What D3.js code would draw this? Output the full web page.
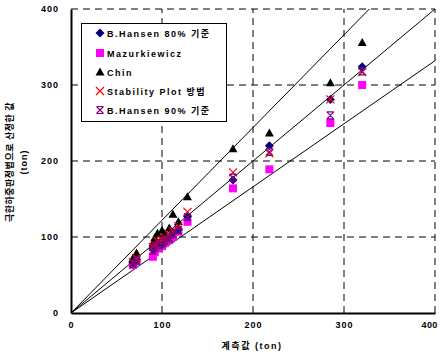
<!DOCTYPE html>
<html><head><meta charset="utf-8">
<script src="https://cdn.jsdelivr.net/npm/d3@7"></script>
<style>
body{margin:0;background:#fff;}
text{font-family:"Liberation Sans","Noto Sans CJK KR",Arial,sans-serif;font-weight:bold;}
</style></head><body>
<svg id="c" width="440" height="356"></svg>
<script>
const measured = [68, 72, 90, 92, 95, 100, 103, 108, 112, 118, 128, 178, 218, 285, 320];
const hansen80 = [66, 70, 84, 88, 91, 90, 96, 100, 106, 110, 127, 175, 220, 281, 324];
const mazur    = [63, 68, 74, 80, 85, 88, 92, 96, 100, 107, 120, 164, 189, 250, 300];
const chin     = [72, 79, 92, 99, 105, 109, 104, 112, 130, 120, 153, 216, 237, 303, 356];
const stability= [67, 72, 87, 90, 95, 96, 99, 103, 108, 114, 133, 185, 210, 281, 317];
const hansen90 = [65, 69, 82, 86, 89, 92, 95, 98, 104, 109, 126, 178, 212, 260, 318];
const ticks = [0, 100, 200, 300, 400];
const lineSlopes = [1.22, 1.0, 0.83];
const seriesNames = ["B.Hansen 80% 기준", "Mazurkiewicz", "Chin", "Stability Plot 방법", "B.Hansen 90% 기준"];
const xTitle = "계측값 (ton)";
const yTitle1 = "극한하중판정법으로 산정한 값";
const yTitle2 = "(ton)";

const svg = d3.select("#c");
const L = 71, R = 435, T = 9, B = 313;
const x = d3.scaleLinear().domain([0, 400]).range([L, R]);
const y = d3.scaleLinear().domain([0, 400]).range([B, T]);

const g = svg.append("g");
g.selectAll(".gx").data(ticks.slice(1)).enter().append("line")
  .attr("x1", d => x(d)).attr("x2", d => x(d)).attr("y1", y(0)).attr("y2", y(400))
  .attr("stroke", "#000").attr("stroke-width", 1).attr("stroke-dasharray", "7,5");
g.selectAll(".gy").data(ticks.slice(1)).enter().append("line")
  .attr("y1", d => y(d)).attr("y2", d => y(d)).attr("x1", x(0)).attr("x2", x(400))
  .attr("stroke", "#000").attr("stroke-width", 1).attr("stroke-dasharray", "7,5");

svg.append("clipPath").attr("id", "pc").append("rect")
  .attr("x", L).attr("y", T).attr("width", R - L).attr("height", B - T);
g.selectAll(".rl").data(lineSlopes).enter().append("line")
  .attr("clip-path", "url(#pc)")
  .attr("x1", x(0)).attr("y1", y(0))
  .attr("x2", x(400)).attr("y2", d => y(400 * d))
  .attr("stroke", "#000").attr("stroke-width", 1);

const xAxis = d3.axisBottom(x).tickValues(ticks).tickSize(0).tickPadding(9);
const yAxis = d3.axisLeft(y).tickValues(ticks).tickSize(0).tickPadding(12);
const gx = svg.append("g").attr("transform", `translate(0,${B})`).call(xAxis);
const gy = svg.append("g").attr("transform", `translate(${L},0)`).call(yAxis);
[gx, gy].forEach(a => {
  a.select(".domain").attr("stroke", "#000").attr("stroke-width", 2);
  a.selectAll("text").attr("font-size", 9).attr("letter-spacing", 1).attr("fill", "#000")
   .style("font-family", '"Liberation Sans",Arial,sans-serif').style("font-weight", "bold");
});
gx.selectAll(".tick").filter(d => d === 400).select("text")
  .attr("letter-spacing", 0.3).attr("text-anchor", "end").attr("dx", 2);

function drawMarker(sel, type, cx, cy) {
  if (type === 0) {
    sel.append("path").attr("d", `M${cx},${cy-4.5}L${cx+4.5},${cy}L${cx},${cy+4.5}L${cx-4.5},${cy}Z`).attr("fill", "#000080");
  } else if (type === 1) {
    sel.append("rect").attr("x", cx-4).attr("y", cy-4).attr("width", 8).attr("height", 8).attr("fill", "#ff00ff");
  } else if (type === 2) {
    sel.append("path").attr("d", `M${cx},${cy-4.5}L${cx+4.5},${cy+3.5}L${cx-4.5},${cy+3.5}Z`).attr("fill", "#000");
  } else if (type === 3) {
    sel.append("path").attr("d", `M${cx-4},${cy-4}L${cx+4},${cy+4}M${cx-4},${cy+4}L${cx+4},${cy-4}`).attr("stroke", "#ff0000").attr("stroke-width", 1.2).attr("fill", "none");
  } else {
    sel.append("path").attr("d", `M${cx-3.5},${cy-3.5}L${cx+3.5},${cy+3.5}M${cx-3.5},${cy+3.5}L${cx+3.5},${cy-3.5}M${cx-3.5},${cy-3.5}L${cx+3.5},${cy-3.5}M${cx-3.5},${cy+3.5}L${cx+3.5},${cy+3.5}`).attr("stroke", "#800080").attr("stroke-width", 1.2).attr("fill", "none");
  }
}
const series = [hansen80, mazur, chin, stability, hansen90];
const drawOrder = [1, 0, 2, 3, 4];
const mg = svg.append("g");
drawOrder.forEach(si => {
  series[si].forEach((v, i) => drawMarker(mg, si, x(measured[i]), y(v)));
});

const lg = svg.append("g");
lg.append("rect").attr("x", 81.5).attr("y", 23.5).attr("width", 145).attr("height", 98)
  .attr("fill", "#fff").attr("stroke", "#000").attr("stroke-width", 1);
const ly = [33, 53, 72, 91, 110];
seriesNames.forEach((n, i) => {
  drawMarker(lg, i, 100, ly[i]);
  lg.append("text").attr("x", 107).attr("y", ly[i] + 3.5).attr("font-size", 9)
    .attr("letter-spacing", 1.5).attr("fill", "#000").text(n);
});

svg.append("text").attr("x", 252).attr("y", 349).attr("text-anchor", "middle")
  .attr("font-size", 9).attr("letter-spacing", 1.5).text(xTitle);
svg.append("text").attr("transform", "translate(13,162) rotate(-90)").attr("text-anchor", "middle")
  .attr("font-size", 9).attr("letter-spacing", 0.5).text(yTitle1);
svg.append("text").attr("transform", "translate(27,162) rotate(-90)").attr("text-anchor", "middle")
  .attr("font-size", 9).attr("letter-spacing", 1).text(yTitle2);
</script>
</body></html>
